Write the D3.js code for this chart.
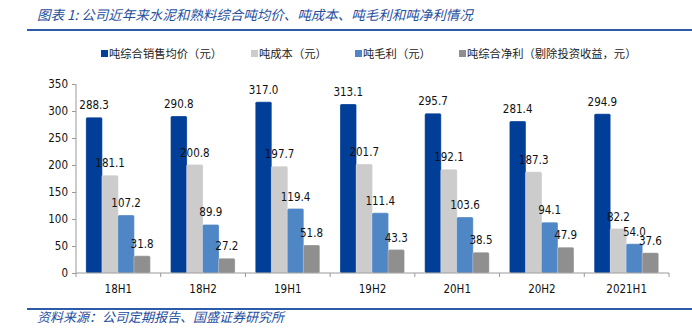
<!DOCTYPE html>
<html><head><meta charset="utf-8">
<script src="https://cdn.jsdelivr.net/npm/d3@7"></script>
<style>body{margin:0;background:#fff}svg{display:block}</style>
</head><body><svg id="c" width="692" height="332"></svg>
<script>
const categories = ["18H1","18H2","19H1","19H2","20H1","20H2","2021H1"];
const seriesNames = ["吨综合销售均价（元）","吨成本（元）","吨毛利（元）","吨综合净利（剔除投资收益，元）"];
const priceValues = [288.3,290.8,317.0,313.1,295.7,281.4,294.9];
const costValues = [181.1,200.8,197.7,201.7,192.1,187.3,82.2];
const grossValues = [107.2,89.9,119.4,111.4,103.6,94.1,54.0];
const netValues = [31.8,27.2,51.8,43.3,38.5,47.9,37.6];
const yTicks = [0,50,100,150,200,250,300,350];
const colors = ["#003E97","#CCCCCC","#4F86C6","#8F8F8F"];
const series = [priceValues,costValues,grossValues,netValues];

const svg = d3.select("#c");
const blue = "#2C5CA8";
const txtFont = "'DejaVu Sans Condensed','DejaVu Sans',sans-serif";
const cjk = "'Noto Sans CJK SC',sans-serif";

// title
svg.append("text").attr("x",37).attr("y",20).attr("font-family",cjk).attr("font-size",13.5)
  .attr("font-style","italic").attr("fill","#1F4E9E")
  .text("图表 1:  公司近年来水泥和熟料综合吨均价、吨成本、吨毛利和吨净利情况");
svg.append("line").attr("x1",27).attr("x2",692).attr("y1",30).attr("y2",30).attr("stroke",blue).attr("stroke-width",2);
svg.append("line").attr("x1",27).attr("x2",692).attr("y1",309).attr("y2",309).attr("stroke",blue).attr("stroke-width",2);
svg.append("text").attr("x",37).attr("y",322).attr("font-family",cjk).attr("font-size",13)
  .attr("font-style","italic").attr("fill","#1F4E9E").text("资料来源：公司定期报告、国盛证券研究所");

// legend
const legX = [101,251,355,459];
seriesNames.forEach((n,i)=>{
  svg.append("rect").attr("x",legX[i]).attr("y",50).attr("width",7).attr("height",7).attr("fill",colors[i]);
  svg.append("text").attr("x",legX[i]+8).attr("y",57.5).attr("font-family",cjk).attr("font-size",11.3)
    .attr("fill","#222").text(n);
});

const x = d3.scaleBand().domain(categories).range([76,669]).padding(0);
const y = d3.scaleLinear().domain([0,350]).range([273,84]);

// axes
const yAxis = d3.axisLeft(y).tickValues(yTicks).tickSize(4).tickPadding(4);
const gy = svg.append("g").attr("transform","translate(76,0)").call(yAxis);
gy.selectAll("text").attr("font-family",txtFont).attr("font-size",11.5).attr("fill","#111");
gy.selectAll("line,path").attr("stroke","#999");
gy.select(".domain").attr("d","M0,84V273");

const bw = 16.5, step = 16;
categories.forEach((c,ci)=>{
  const cx = x(c)+x.bandwidth()/2 - 0.5;
  series.forEach((vals,si)=>{
    const bx = cx - 2*step + si*step;
    const v = vals[ci];
    svg.append("rect").attr("x",bx).attr("y",y(v)).attr("width",bw).attr("height",y(0)-y(v))
      .attr("fill",colors[si]).attr("rx",1.5).attr("stroke","#fff").attr("stroke-opacity",0.35).attr("stroke-width",0.8);
    svg.append("text").attr("x",bx+bw/2).attr("y",y(v)-8).attr("text-anchor","middle")
      .attr("font-family",txtFont).attr("font-size",11.5).attr("fill","#111").text(v.toFixed(1));
  });
});

const xAxis = d3.axisBottom(x).tickSize(0).tickPadding(12);
const gx = svg.append("g").attr("transform","translate(0,273)").call(xAxis);
gx.selectAll("text").attr("font-family",txtFont).attr("font-size",11.5).attr("fill","#111");
gx.select(".domain").attr("stroke","#999").attr("d","M76,0H669");
// band boundary ticks
const bounds = categories.map(c=>x(c)).concat([669]);
svg.append("g").selectAll("line").data(bounds).join("line")
  .attr("x1",d=>d).attr("x2",d=>d).attr("y1",273).attr("y2",277).attr("stroke","#999");
</script></body></html>
